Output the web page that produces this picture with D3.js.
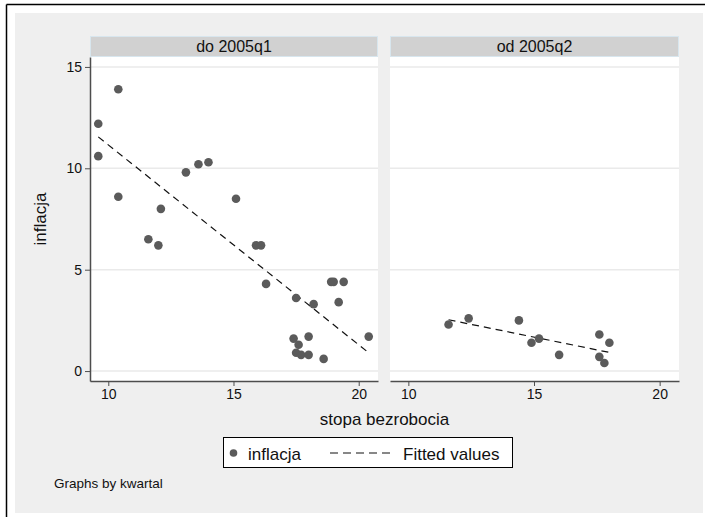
<!DOCTYPE html>
<html>
<head>
<meta charset="utf-8">
<script src="https://cdn.jsdelivr.net/npm/d3@7"></script>
<style>
  body { margin: 0; background: #fff; }
  svg { display: block; font-family: "Liberation Sans", Arial, sans-serif; }
</style>
</head>
<body>
<svg id="chart" width="705" height="517"></svg>
<script>
// ---- Data
const panelTitles = ["do 2005q1", "od 2005q2"];

const leftX = [9.6, 10.4, 9.6, 10.4, 12.1, 13.1, 13.6, 14.0, 15.1, 11.6, 12.0, 15.9, 16.1,
               16.3, 17.5, 18.2, 18.9, 19.0, 19.4, 19.2, 17.4, 17.6, 17.5, 17.7, 18.0, 18.0, 18.6, 20.4];
const leftY = [12.2, 13.9, 10.6, 8.6, 8.0, 9.8, 10.2, 10.3, 8.5, 6.5, 6.2, 6.2, 6.2,
               4.3, 3.6, 3.3, 4.4, 4.4, 4.4, 3.4, 1.6, 1.3, 0.9, 0.8, 1.7, 0.8, 0.6, 1.7];

const rightX = [11.6, 12.4, 14.4, 14.9, 15.2, 16.0, 17.6, 18.0, 17.6, 17.8];
const rightY = [2.3, 2.6, 2.5, 1.4, 1.6, 0.8, 1.8, 1.4, 0.7, 0.4];

const fitLeftX = [9.6, 20.4];
const fitLeftY = [11.55, 0.9];
const fitRightX = [11.6, 18.0];
const fitRightY = [2.53, 0.92];

const xTicks = [10, 15, 20];
const yTicks = [0, 5, 10, 15];

const xLabel = "stopa bezrobocia";
const yLabel = "inflacja";
const legendLabels = ["inflacja", "Fitted values"];
const noteText = "Graphs by kwartal";

// ---- Layout
const svg = d3.select("#chart");
const plotTop = 57, plotBottom = 381;
const panels = [
  { x0: 90, x1: 378, px: leftX, py: leftY, fx: fitLeftX, fy: fitLeftY, yAxis: true },
  { x0: 390, x1: 679, px: rightX, py: rightY, fx: fitRightX, fy: fitRightY, yAxis: false }
];
const dotColor = "#5b5b5b";
const axisColor = "#4d4d4d";

// outer frame + background
svg.append("rect").attr("x", 15).attr("y", 13).attr("width", 688).attr("height", 500).attr("fill", "#efefef");
svg.append("line").attr("x1", 6.5).attr("x2", 705).attr("y1", 4.5).attr("y2", 4.5).attr("stroke", "#000").attr("stroke-width", 1.5);
svg.append("line").attr("x1", 6.5).attr("x2", 6.5).attr("y1", 4.5).attr("y2", 517).attr("stroke", "#000").attr("stroke-width", 1.5);

const mapY = d3.scaleLinear().domain([-0.49, 15.49]).range([plotBottom, plotTop]);

panels.forEach((p, i) => {
  const mapX = d3.scaleLinear().domain([9.27, 20.77]).range([p.x0, p.x1]);
  const g = svg.append("g");

  // strip
  g.append("rect").attr("x", p.x0 + 0.5).attr("y", 36.5).attr("width", p.x1 - p.x0 - 1).attr("height", 20)
    .attr("fill", "#d1d1d1").attr("stroke", "#d8e6ee").attr("stroke-width", 1);
  g.append("text").attr("x", (p.x0 + p.x1) / 2).attr("y", 52).attr("text-anchor", "middle")
    .attr("font-size", 16).attr("fill", "#111").text(panelTitles[i]);

  // plot region
  g.append("rect").attr("x", p.x0).attr("y", plotTop).attr("width", p.x1 - p.x0).attr("height", plotBottom - plotTop)
    .attr("fill", "#fff");

  // grid
  g.selectAll(".grid").data(yTicks).enter().append("line")
    .attr("x1", p.x0).attr("x2", p.x1)
    .attr("y1", d => mapY(d)).attr("y2", d => mapY(d))
    .attr("stroke", "#eaeaea").attr("stroke-width", 1.5);

  // x axis
  const xAxis = d3.axisBottom(mapX).tickValues(xTicks).tickSize(5).tickPadding(3).tickSizeOuter(0);
  const gx = g.append("g").attr("transform", `translate(0, ${plotBottom})`).call(xAxis);
  gx.select(".domain").attr("stroke", axisColor).attr("stroke-width", 1.5);
  gx.selectAll(".tick line").attr("stroke", axisColor);
  gx.selectAll(".tick text").attr("font-size", 14).attr("fill", "#111").attr("font-family", "Liberation Sans, Arial, sans-serif");

  if (p.yAxis) {
    const yAxis = d3.axisLeft(mapY).tickValues(yTicks).tickSize(5).tickPadding(3).tickSizeOuter(0);
    const gy = g.append("g").attr("transform", `translate(${p.x0}, 0)`).call(yAxis);
    gy.select(".domain").attr("stroke", axisColor).attr("stroke-width", 1.5);
    gy.selectAll(".tick line").attr("stroke", axisColor);
    gy.selectAll(".tick text").attr("font-size", 14).attr("fill", "#111").attr("font-family", "Liberation Sans, Arial, sans-serif");
  }

  // fitted line
  const fit = p.fx.map((x, k) => [x, p.fy[k]]);
  g.append("path").datum(fit)
    .attr("d", d3.line().x(d => mapX(d[0])).y(d => mapY(d[1])))
    .attr("fill", "none").attr("stroke", "#111").attr("stroke-width", 1.2)
    .attr("stroke-dasharray", "7,5");

  // points
  g.selectAll("circle").data(p.px.map((x, k) => [x, p.py[k]])).enter().append("circle")
    .attr("cx", d => mapX(d[0])).attr("cy", d => mapY(d[1])).attr("r", 4.3)
    .attr("fill", dotColor);
});

// axis titles
svg.append("text").attr("x", 384.5).attr("y", 425).attr("text-anchor", "middle")
  .attr("font-size", 17).attr("fill", "#111").text(xLabel);
svg.append("text").attr("transform", "translate(46, 219) rotate(-90)").attr("text-anchor", "middle")
  .attr("font-size", 17).attr("fill", "#111").text(yLabel);

// legend
const lg = svg.append("g");
lg.append("rect").attr("x", 223.5).attr("y", 437.5).attr("width", 289).attr("height", 30)
  .attr("fill", "#fff").attr("stroke", "#000").attr("stroke-width", 1);
lg.append("circle").attr("cx", 233.5).attr("cy", 453).attr("r", 3.8).attr("fill", dotColor);
lg.append("text").attr("x", 248).attr("y", 459.5).attr("font-size", 17).attr("fill", "#111").text(legendLabels[0]);
lg.append("line").attr("x1", 330).attr("x2", 393).attr("y1", 453).attr("y2", 453)
  .attr("stroke", "#111").attr("stroke-width", 1.2).attr("stroke-dasharray", "8,5");
lg.append("text").attr("x", 403).attr("y", 459.5).attr("font-size", 17).attr("fill", "#111").text(legendLabels[1]);

// note
svg.append("text").attr("x", 54).attr("y", 488).attr("font-size", 13.5).attr("fill", "#111").text(noteText);
</script>
</body>
</html>
